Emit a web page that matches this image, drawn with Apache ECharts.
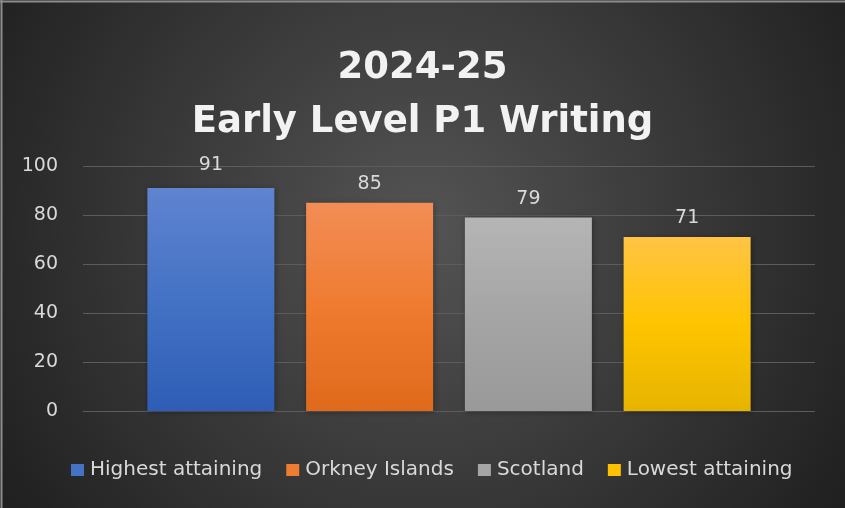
<!DOCTYPE html>
<html>
<head>
<meta charset="utf-8">
<script src="https://cdn.jsdelivr.net/npm/echarts@6/dist/echarts.min.js"></script>
<style>
  html, body { margin: 0; padding: 0; background: #fff; }
  #myChart { width: 845px; height: 508px; }
</style>
</head>
<body>
<div id="myChart"></div>
<script>
// chart data
var titleLines = ["2024-25", "Early Level P1 Writing"];
var seriesNames = ["Highest attaining", "Orkney Islands", "Scotland", "Lowest attaining"];
var seriesValues = [91, 85, 79, 71];
var yTicks = [0, 20, 40, 60, 80, 100];

// colours: legend colour + gradient top / mid / bottom
var baseColors = ["#4472C4", "#ED7D31", "#A5A5A5", "#FFC000"];
var gradColors = [
  ["#5f84d0", "#4472c4", "#2d5db6"],
  ["#f28d55", "#ef7b30", "#e0691b"],
  ["#b5b5b5", "#a5a5a5", "#999999"],
  ["#ffc444", "#ffc400", "#e6b400"],
];

var myChart = echarts.init(document.getElementById("myChart"));

var series = seriesNames.map(function (name, i) {
  return {
    name: name,
    type: "bar",
    data: [seriesValues[i]],
    barWidth: 127,
    barGap: "25%",
    itemStyle: {
      color: new echarts.graphic.LinearGradient(0, 0, 0, 1, [
        { offset: 0, color: gradColors[i][0] },
        { offset: 0.5, color: gradColors[i][1] },
        { offset: 1, color: gradColors[i][2] },
      ]),
      shadowBlur: 6,
      shadowColor: "rgba(0,0,0,0.35)",
      shadowOffsetX: 1,
      shadowOffsetY: 1,
    },
    label: {
      show: true,
      position: "top",
      distance: i === 0 ? 13 : 9,
      color: "#d9d9d9",
      fontSize: 19,
      fontFamily: "DejaVu Sans",
    },
  };
});

myChart.setOption({
  backgroundColor: {
    type: "radial",
    x: 0.5,
    y: 0.45,
    r: 1.0,
    colorStops: [
      { offset: 0, color: "#545454" },
      { offset: 1, color: "#1f1f1f" },
    ],
  },
  color: baseColors,
  title: {
    text: titleLines.join("\n"),
    left: "center",
    top: 36,
    textStyle: {
      color: "#f2f2f2",
      fontSize: 37,
      fontWeight: "bold",
      fontFamily: "DejaVu Sans",
      lineHeight: 54,
    },
  },
  legend: {
    data: seriesNames.map(function (name, i) {
      return { name: name, itemStyle: { color: baseColors[i], shadowBlur: 0 } };
    }),
    left: 66,
    top: 455,
    itemWidth: 13,
    itemHeight: 12,
    itemGap: 24,
    icon: "rect",
    textStyle: {
      color: "#d9d9d9",
      fontSize: 20,
      fontFamily: "DejaVu Sans",
      padding: [0, 0, 0, 1],
    },
  },
  grid: {
    left: 83,
    right: 30,
    top: 166,
    bottom: 97,
  },
  xAxis: {
    type: "category",
    data: [""],
    axisLine: { show: false },
    axisTick: { show: false },
    axisLabel: { show: false },
  },
  yAxis: {
    type: "value",
    min: yTicks[0],
    max: yTicks[yTicks.length - 1],
    interval: yTicks[1] - yTicks[0],
    axisLine: { show: false },
    axisTick: { show: false },
    axisLabel: {
      color: "#d9d9d9",
      fontSize: 19,
      fontFamily: "DejaVu Sans",
      margin: 25,
    },
    splitLine: {
      lineStyle: { color: "#5c5c5c", width: 1 },
    },
  },
  graphic: [
    { type: "line", shape: { x1: 1.5, y1: 0, x2: 1.5, y2: 508 }, style: { stroke: "#8c8c8c", lineWidth: 2 } },
    { type: "line", shape: { x1: 0, y1: 1.5, x2: 845, y2: 1.5 }, style: { stroke: "#8c8c8c", lineWidth: 2 } },
  ],
  series: series,
});
</script>
</body>
</html>
